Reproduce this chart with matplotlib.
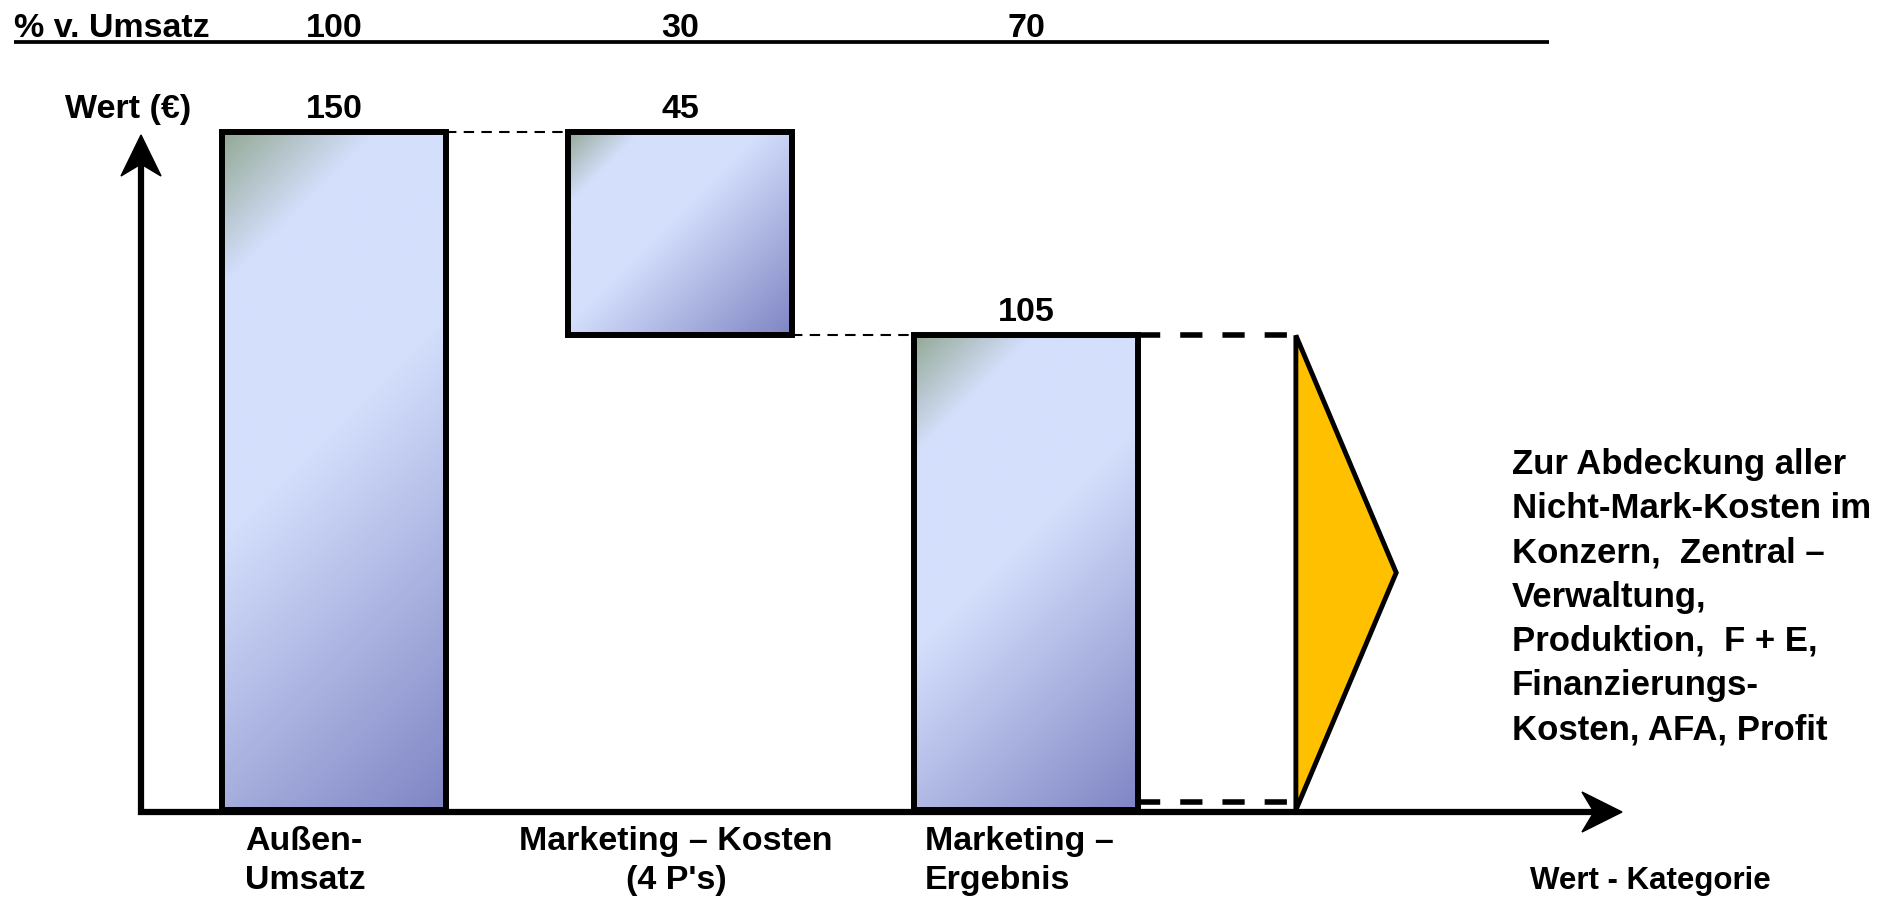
import numpy as np
import matplotlib
matplotlib.use("Agg")
import matplotlib.pyplot as plt
from matplotlib.patches import Rectangle, Polygon
from matplotlib.colors import LinearSegmentedColormap
from matplotlib.transforms import Affine2D

plt.rcParams['font.family'] = ['Liberation Sans', 'DejaVu Sans']
plt.rcParams['font.weight'] = 'bold'

# data
categories = ["Außen-\nUmsatz", "Marketing – Kosten\n(4 P's)", "Marketing –\nErgebnis"]
values = [150, 45, 105]
pct_of_sales = [100, 30, 70]
header_label = "% v. Umsatz"
y_label = "Wert (€)"
x_label = "Wert - Kategorie"
note = ("Zur Abdeckung aller\nNicht-Mark-Kosten im\nKonzern,  Zentral –\n"
        "Verwaltung,\nProduktion,  F + E,\nFinanzierungs-\nKosten, AFA, Profit")

W, H = 1890, 900
fig = plt.figure(figsize=(W / 100, H / 100), dpi=100)
ax = fig.add_axes([0, 0, 1, 1])
ax.axis('off')

# category index -> pixels, value -> pixels
x0_px, step_px = 334, 346
zero_px, unit_px = 810, 4.52
bar_w = 224 / step_px
px = Affine2D().scale(1, -1).translate(0, H)   # image pixel coords, y down

grad = LinearSegmentedColormap.from_list(
    'bar', [(0, '#94a996'), (0.17, '#d4dffc'), (0.45, '#d4dffc'), (1, '#7f85c4')])


def gradient_bar(x, bottom, height):
    rect = Rectangle((x - bar_w / 2, bottom), bar_w, height, facecolor='none',
                     edgecolor='black', lw=4.3, zorder=3)
    ax.add_patch(rect)
    wpx, hpx = bar_w * step_px, height * unit_px
    u = np.linspace(0, 1, 300)
    uu, vv = np.meshgrid(u, u)
    t = (uu * wpx + vv * hpx) / (wpx + hpx)
    im = ax.imshow(t, cmap=grad, vmin=0, vmax=1, origin='upper', aspect='auto',
                   extent=(x - bar_w / 2, x + bar_w / 2, bottom, bottom + height),
                   interpolation='bilinear', zorder=2)
    im.set_clip_path(rect)


# waterfall bottoms
bottoms = [0, values[0] - values[1], 0]
tops = [b + v for b, v in zip(bottoms, values)]
for i, (b, v) in enumerate(zip(bottoms, values)):
    gradient_bar(i, b, v)

# thin connectors
ax.plot([bar_w / 2, 1 - bar_w / 2], [tops[0], tops[0]], color='black', lw=1.5,
        ls=(0, (5, 3.5)), zorder=1)
ax.plot([1 + bar_w / 2, 2 - bar_w / 2], [bottoms[1], bottoms[1]], color='black', lw=1.5,
        ls=(0, (5, 3.5)), zorder=1)

# triangle for remaining result
tri_x, tri_tip = 2.78, 3.07
ax.add_patch(Polygon([[tri_x, tops[2]], [tri_tip, tops[2] / 2], [tri_x, 0]], closed=True,
                     facecolor='#ffc000', edgecolor='black', lw=3.5, joinstyle='miter', zorder=3))
off = 8 / unit_px
for yv in (tops[2], off):
    ax.plot([2 + bar_w / 2, tri_x], [yv, yv], color='black', lw=4,
            ls=(0, (4, 3.6)), zorder=2)

# axes arrows
ax.plot([141, 141], [815, 165], color='black', lw=4.5, transform=px, clip_on=False,
        solid_capstyle='butt', zorder=4)
ax.plot([138, 1600], [812, 812], color='black', lw=4.5, transform=px, clip_on=False,
        solid_capstyle='butt', zorder=4)
ax.add_patch(Polygon([[141, 135], [121, 176], [141, 164], [161, 176]], closed=True,
                     color='black', transform=px, zorder=4))
ax.add_patch(Polygon([[1622, 812], [1582, 792], [1594, 812], [1582, 832]], closed=True,
                     color='black', transform=px, zorder=4))

# header row
fs = 24.5
ax.text(14, 37, header_label, fontsize=fs, ha='left', va='baseline', transform=px)
for i, p in enumerate(pct_of_sales):
    ax.text(x0_px + i * step_px, 37, str(p), fontsize=fs, ha='center', va='baseline',
            transform=px)
ax.plot([14, 1549], [42, 42], color='black', lw=2.7, transform=px, solid_capstyle='butt')

# value labels
ax.text(128, 118, y_label, fontsize=fs, ha='center', va='baseline', transform=px)
label_y = [118, 118, zero_px - tops[2] * unit_px - 14]
for i, v in enumerate(values):
    ax.text(x0_px + i * step_px, label_y[i], str(v), fontsize=fs, ha='center',
            va='baseline', transform=px)

# category labels
cat_pos = [(245, 'left'), (676, 'center'), (925, 'left')]
for (xp, al), c in zip(cat_pos, categories):
    ax.text(xp, 861, c, fontsize=fs, ha=al, va='center', multialignment=al,
            linespacing=1.3, transform=px)

ax.text(1650, 881, x_label, fontsize=22.5, ha='center', va='center', transform=px)
ax.text(1512, 597, note, fontsize=25, ha='left', va='center', linespacing=1.43,
        transform=px)

ax.set_xlim(-x0_px / step_px, (W - x0_px) / step_px)
ax.set_ylim((zero_px - H) / unit_px, zero_px / unit_px)

fig.savefig('out.png', dpi=100)
